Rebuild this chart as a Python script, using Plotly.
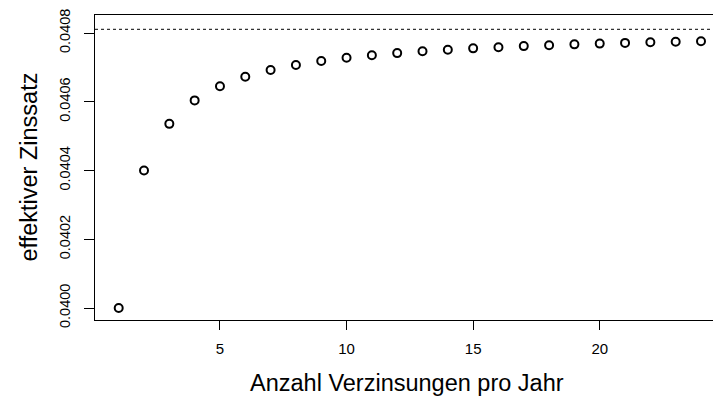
import plotly.graph_objects as go

# compounding periods per year and resulting effective annual rate (nominal 4 %)
n_per_year = list(range(1, 25))
eff_rate = [
    0.0400000, 0.0404000, 0.0405357, 0.0406040, 0.0406453, 0.0406727,
    0.0406923, 0.0407071, 0.0407186, 0.0407278, 0.0407353, 0.0407415,
    0.0407469, 0.0407514, 0.0407554, 0.0407588, 0.0407619, 0.0407646,
    0.0407670, 0.0407692, 0.0407712, 0.0407730, 0.0407746, 0.0407761,
]
# continuous compounding limit exp(0.04) - 1
limit_rate = 0.0408108

x_ticks = [5, 10, 15, 20]
y_ticks = [0.0400, 0.0402, 0.0404, 0.0406, 0.0408]
y_tick_text = ["0.0400", "0.0402", "0.0404", "0.0406", "0.0408"]

FONT = "Liberation Sans, Arial, Helvetica, sans-serif"

fig = go.Figure()
fig.add_trace(go.Scatter(
    x=n_per_year, y=eff_rate, mode="markers",
    marker=dict(symbol="circle-open", size=8, color="black",
                line=dict(width=2, color="black")),
    showlegend=False, hoverinfo="x+y",
))

fig.add_shape(type="line", xref="paper", yref="y", x0=0, x1=1,
              y0=limit_rate, y1=limit_rate,
              line=dict(color="black", width=1, dash="dot"))

fig.update_layout(
    width=713, height=398,
    margin=dict(l=95, r=0, t=15, b=78),
    paper_bgcolor="white", plot_bgcolor="white",
    font=dict(family=FONT, color="black"),
    xaxis=dict(
        range=[0.064, 24.474], tickvals=x_ticks,
        ticks="outside", ticklen=9, tickwidth=1, tickcolor="black",
        showline=True, linecolor="black", linewidth=1, mirror=True,
        showgrid=False, zeroline=False,
        tickfont=dict(size=15, family=FONT), ticklabelstandoff=6,
    ),
    yaxis=dict(
        range=[0.0399651, 0.0408524], tickvals=y_ticks, ticktext=y_tick_text,
        ticks="outside", ticklen=10, tickwidth=1, tickcolor="black",
        showline=True, linecolor="black", linewidth=1, mirror=False,
        showgrid=False, zeroline=False, tickangle=-90,
        tickfont=dict(size=14.5, family=FONT), ticklabelstandoff=8,
    ),
    annotations=[
        dict(text="Anzahl Verzinsungen pro Jahr", xref="paper", yref="paper",
             x=(407 - 95) / 618, y=-(383 - 320) / 305, xanchor="center",
             yanchor="middle", showarrow=False, font=dict(size=23.5, family=FONT)),
        dict(text="effektiver Zinssatz", xref="paper", yref="paper",
             x=-(95 - 28) / 618, y=0.5, xanchor="center", yanchor="middle",
             textangle=-90, showarrow=False, font=dict(size=23.5, family=FONT)),
    ],
)

fig.write_html("out.html")
